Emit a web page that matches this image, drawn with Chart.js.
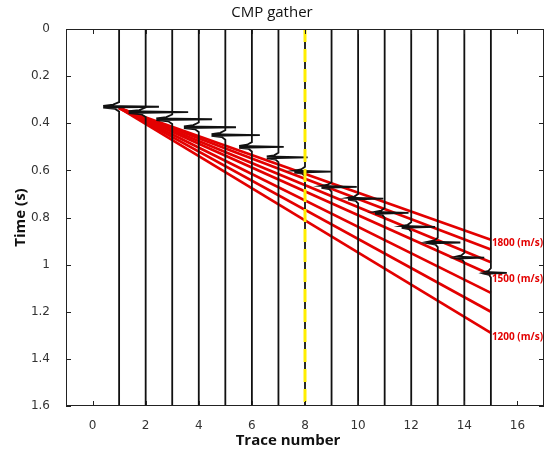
<!DOCTYPE html>
<html>
<head>
<meta charset="utf-8">
<script src="https://cdn.jsdelivr.net/npm/chart.js@4"></script>
<style>
  html, body { margin: 0; padding: 0; background: #fff; }
  #wrap { width: 553px; height: 451px; }
</style>
</head>
<body>
<div id="wrap"><canvas id="cmp-chart"></canvas></div>
<script>
// trace positions and picked arrival time (s) of each wavelet
const traceNumbers = [1, 2, 3, 4, 5, 6, 7, 8, 9, 10, 11, 12, 13, 14, 15];
const arrivalTimes = [0.33, 0.353, 0.383, 0.417, 0.45, 0.50, 0.545, 0.605, 0.67, 0.72, 0.78, 0.84, 0.906, 0.97, 1.035];
const traceAmps = [1.5, 1.6, 1.5, 1.4, 1.3, 1.2, 1.1, 1.0, 0.95, 0.95, 0.9, 0.9, 0.85, 0.75, 0.6];

// wavelet shape: time offsets (s) and relative horizontal deflection
const waveletDt = [-0.02, -0.009, -0.004, 0, 0.004, 0.009, 0.02];
const waveletAmp = [0, -0.15, -0.4, 1, -0.4, -0.1, 0];

// NMO velocity lines, all from trace 1 apex to trace 15
const nmoStart = { x: 1, y: 0.335 };
const nmoEndTimes = [0.894, 0.936, 0.99, 1.043, 1.12, 1.20, 1.29];
const nmoLabels = [
  { line: 0, text: "1800 (m/s)" },
  { line: 3, text: "1500 (m/s)" },
  { line: 6, text: "1200 (m/s)" }
];

const xTicks = [0, 2, 4, 6, 8, 10, 12, 14, 16];
const yTicks = [0, 0.2, 0.4, 0.6, 0.8, 1, 1.2, 1.4, 1.6];
const centerTrace = 8;

const datasets = [];

// yellow dashed marker on the centre trace (on top)
datasets.push({
  data: [{ x: centerTrace, y: 0 }, { x: centerTrace, y: 1.6 }],
  borderColor: "#ffee00",
  borderWidth: 3,
  borderDash: [13, 7],
  order: 0
});

traceNumbers.forEach((tr, i) => {
  const pts = [{ x: tr, y: 0 }];
  waveletDt.forEach((dt, k) => {
    pts.push({ x: tr + waveletAmp[k] * traceAmps[i], y: arrivalTimes[i] + dt });
  });
  pts.push({ x: tr, y: 1.6 });
  datasets.push({
    data: pts,
    borderColor: "#111",
    borderWidth: 1.8,
    order: 1
  });
});

nmoEndTimes.forEach(t => {
  datasets.push({
    data: [nmoStart, { x: 15, y: t }],
    borderColor: "#e30000",
    borderWidth: 2.7,
    order: 2
  });
});

const frameTicks = {
  id: "frameTicks",
  afterDraw(chart) {
    const { ctx, chartArea: a, scales } = chart;
    ctx.save();
    ctx.strokeStyle = "#222";
    ctx.lineWidth = 1;
    ctx.strokeRect(a.left + 0.5, a.top + 0.5, a.right - a.left - 1, a.bottom - a.top - 1);
    ctx.beginPath();
    yTicks.forEach(v => {
      const py = Math.round(scales.y.getPixelForValue(v)) + 0.5;
      ctx.moveTo(a.left, py); ctx.lineTo(a.left + 5, py);
      ctx.moveTo(a.right, py); ctx.lineTo(a.right - 5, py);
    });
    xTicks.forEach(v => {
      const px = Math.round(scales.x.getPixelForValue(v)) + 0.5;
      ctx.moveTo(px, a.bottom); ctx.lineTo(px, a.bottom - 5);
      ctx.moveTo(px, a.top); ctx.lineTo(px, a.top + 5);
    });
    ctx.stroke();

    ctx.fillStyle = "#e30000";
    ctx.font = "bold 10px 'Open Sans'";
    ctx.textBaseline = "middle";
    nmoLabels.forEach(l => {
      const px = scales.x.getPixelForValue(15) + 1;
      const py = scales.y.getPixelForValue(nmoEndTimes[l.line]) + 4;
      ctx.fillText(l.text, px, py);
    });

    // axis titles
    ctx.fillStyle = "#111";
    ctx.font = "bold 15px 'Open Sans'";
    ctx.textAlign = "center";
    ctx.fillText("Trace number", 288, 441);
    ctx.translate(21, (a.top + a.bottom) / 2);
    ctx.rotate(-Math.PI / 2);
    ctx.fillText("Time (s)", 0, 0);
    ctx.restore();
  }
};

new Chart(document.getElementById("cmp-chart"), {
  type: "line",
  data: { datasets: datasets },
  options: {
    responsive: true,
    maintainAspectRatio: false,
    animation: false,
    layout: { padding: { left: 0, right: 9, top: 0, bottom: 0 } },
    elements: { point: { radius: 0 }, line: { tension: 0 } },
    plugins: {
      legend: { display: false },
      tooltip: { enabled: false },
      title: {
        display: true,
        text: "CMP gather",
        color: "#111",
        font: { family: "Open Sans", size: 15, weight: "normal" },
        padding: { top: 4, bottom: 7 }
      }
    },
    scales: {
      x: {
        type: "linear",
        min: -1,
        max: 17,
        grid: { display: false },
        border: { display: false },
        afterBuildTicks: s => { s.ticks = xTicks.map(v => ({ value: v })); },
        afterFit: s => { s.height = 45; },
        ticks: { color: "#333", font: { family: "DejaVu Sans", size: 12 }, padding: 5, callback: v => String(v) }
      },
      y: {
        type: "linear",
        reverse: true,
        min: 0,
        max: 1.6,
        grid: { display: false },
        border: { display: false },
        afterBuildTicks: s => { s.ticks = yTicks.map(v => ({ value: v })); },
        afterFit: s => { s.width = 66; },
        ticks: { color: "#333", font: { family: "DejaVu Sans", size: 12 }, padding: 8, callback: v => String(v) }
      }
    }
  },
  plugins: [frameTicks]
});
</script>
</body>
</html>
